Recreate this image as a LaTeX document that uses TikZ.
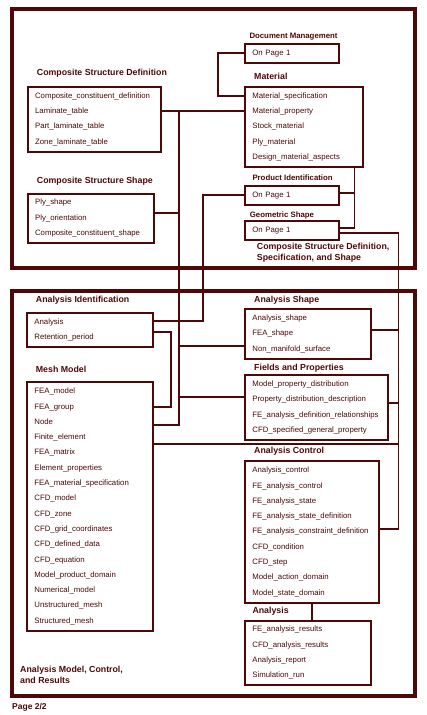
\documentclass[tikz,border=0pt]{standalone}
\usepackage{fontspec}
\setmainfont{Liberation Sans}
\usepackage{tikz}
\usetikzlibrary{positioning}
\definecolor{darkmaroon}{RGB}{78,8,8}
\hyphenpenalty=10000

\begin{document}
\begin{tikzpicture}[x=1pt,y=-1pt,color=darkmaroon,
    entity/.style={draw,line width=1.8pt,anchor=north west,align=left,
      inner xsep=7.5pt,inner ysep=0pt,font=\fontsize{7.8}{15.3}\selectfont},
    title/.style={anchor=west,inner sep=0pt,font=\fontsize{8.8}{11.3}\selectfont\bfseries},
    smalltitle/.style={anchor=west,inner sep=0pt,font=\fontsize{7.8}{9}\selectfont\bfseries},
    frame/.style={line width=4pt},
    link/.style={line width=1.8pt}]
  \useasboundingbox (0,0) rectangle (427,715);
  % Draw the two frames
  \draw[frame] (12,9) rectangle (415,268);
  \draw[frame] (12,291) rectangle (415,696);
  \node (page) [anchor=west,inner sep=0pt,font=\fontsize{8.5}{9}\selectfont\bfseries] at (12,707) {Page 2/2};

  % Upper frame: entities
  \node (doc) [entity,text width=79pt,minimum height=19.3pt] at (244,42.7) {On Page 1};
  \node (mat) [entity,text width=102.7pt,minimum height=79.7pt] at (244,86)
    {Material\_specification\\Material\_property\\Stock\_material\\Ply\_material\\Design\_material\_aspects};
  \node (csd) [entity,text width=118.3pt,minimum height=64.7pt] at (26.7,86)
    {Composite\_constituent\_definition\\Laminate\_table\\Part\_laminate\_table\\Zone\_laminate\_table};
  \node (css) [entity,text width=111.3pt,minimum height=49pt] at (26.7,192.7)
    {Ply\_shape\\Ply\_orientation\\Composite\_constituent\_shape};
  \node (prod) [entity,text width=79pt,minimum height=19pt] at (244,185) {On Page 1};
  \node (geo) [entity,text width=79pt,minimum height=18.7pt] at (244,220) {On Page 1};

  \node (docT) [smalltitle] at (249.3,36.7) {Document Management};
  \node (matT) [title] at (254,76) {Material};
  \node (csdT) [title] at (36.7,73.3) {Composite Structure Definition};
  \node (cssT) [title] at (36.7,181.7) {Composite Structure Shape};
  \node (prodT) [smalltitle] at (252.3,177.7) {Product Identification};
  \node (geoT) [smalltitle] at (249.7,215) {Geometric Shape};
  \node (upT) [title,align=left,anchor=north west] at (256.7,243) {Composite Structure Definition,\\Specification, and Shape};

  % Lower frame: entities
  \node (aid) [entity,text width=111.3pt,minimum height=34.3pt] at (26,311.7)
    {Analysis\\Retention\_period};
  \node (mesh) [entity,text width=111.3pt,minimum height=249pt] at (26,381)
    {FEA\_model\\FEA\_group\\Node\\Finite\_element\\FEA\_matrix\\Element\_properties\\
     FEA\_material\_specification\\CFD\_model\\CFD\_zone\\CFD\_grid\_coordinates\\
     CFD\_defined\_data\\CFD\_equation\\Model\_product\_domain\\Numerical\_model\\
     Unstructured\_mesh\\Structured\_mesh};
  \node (ashape) [entity,text width=111pt,minimum height=50.3pt] at (244,307.7)
    {Analysis\_shape\\FEA\_shape\\Non\_manifold\_surface};
  \node (fields) [entity,text width=127.7pt,minimum height=65pt] at (244,374)
    {Model\_property\_distribution\\Property\_distribution\_description\\
     FE\_analysis\_definition\_relationships\\CFD\_specified\_general\_property};
  \node (actl) [entity,text width=118.7pt,minimum height=142pt] at (244,460)
    {Analysis\_control\\FE\_analysis\_control\\FE\_analysis\_state\\
     FE\_analysis\_state\_definition\\FE\_analysis\_constraint\_definition\\
     CFD\_condition\\CFD\_step\\Model\_action\_domain\\Model\_state\_domain};
  \node (ares) [entity,text width=111pt,minimum height=63.7pt] at (244,620)
    {FE\_analysis\_results\\CFD\_analysis\_results\\Analysis\_report\\Simulation\_run};

  \node (aidT) [title] at (35.7,300.7) {Analysis Identification};
  \node (meshT) [title] at (35.7,369.3) {Mesh Model};
  \node (ashapeT) [title] at (254,300) {Analysis Shape};
  \node (fieldsT) [title] at (254,368.3) {Fields and Properties};
  \node (actlT) [title] at (254,451.7) {Analysis Control};
  \node (aresT) [title] at (252.3,611.7) {Analysis};
  \node (lowT) [title,align=left,anchor=north west] at (20,666) {Analysis Model, Control,\\and Results};

  % Connectors
  \draw[link] (doc.west) -- ++(-26,0) |- ([yshift=-10pt]mat.north west);
  \draw[link] ([yshift=-25pt]csd.north east) -- ([yshift=-25pt]mat.north west);
  \path ([yshift=-25pt]csd.north east) ++(17,0) coordinate (spineA);
  \draw[link] (spineA) |- ([yshift=-44pt]mesh.north east);
  \draw[link] ([yshift=-20pt]css.north east) -| (spineA);
  \draw[link] ([yshift=-38.3pt]ashape.north west) -| (spineA);
  \draw[link] ([yshift=-22.7pt]fields.north west) -| (spineA);
  \draw[link] ([xshift=-9pt]mat.south east) |- ([yshift=-7.7pt]geo.north east);
  \draw[link] ([yshift=-7.7pt]prod.north east) -| ([xshift=-9pt]mat.south east);
  \draw[link] ([yshift=-10pt]prod.north west) -- ++(-41.3,0) |- ([yshift=-9pt]aid.north east);
  \draw[link] ([yshift=-13.3pt]geo.north east) -- ++(58.7,0) coordinate (spineD)
    |- ([yshift=-69pt]actl.north east);
  \draw[link] ([yshift=-22.3pt]ashape.north east) -| (spineD);
  \draw[link] ([yshift=-28.7pt]fields.north east) -| (spineD);
  \draw[link] ([yshift=-63pt]mesh.north east) -| (spineD);
  \draw[link] ([yshift=-20.6pt]aid.north east) -- ++(16.7,0) |- ([yshift=-25.7pt]mesh.north east);
  \draw[link] (actl.south) -- (actl.south |- ares.north);
\end{tikzpicture}
\end{document}
